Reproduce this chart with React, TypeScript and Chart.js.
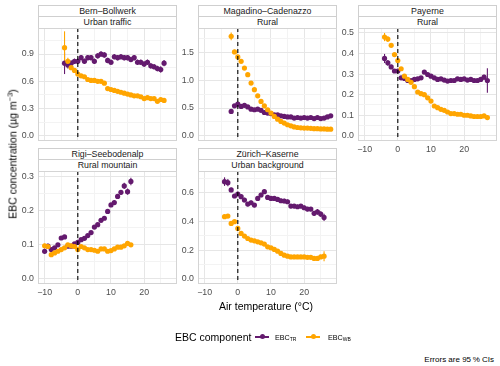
import React, { useEffect, useRef } from "react";
import { Chart, registerables } from "chart.js";
Chart.register(...registerables);

const FONT = '"Liberation Sans", Arial, Helvetica, sans-serif';
const PURPLE = "#641A6E";
const ORANGE = "#FFA500";

// ---------- data ----------
const siteNames = ["Bern–Bollwerk", "Magadino–Cadenazzo", "Payerne", "Rigi–Seebodenalp", "Zürich–Kaserne"];
const siteTypes = ["Urban traffic", "Rural", "Rural", "Rural mountain", "Urban background"];

const xMajorTicks = [-10, 0, 10, 20];
const xMinorTicks = [-5, 5, 15, 25];

const bernTemp = [-4, -3, -2, -1, 0, 1, 2, 3, 4, 5, 6, 7, 8, 9, 10, 11, 12, 13, 14, 15, 16, 17, 18, 19, 20, 21, 22, 23, 24, 25, 26];
const bernTR = [0.80, 0.78, 0.80, 0.82, 0.82, 0.86, 0.82, 0.86, 0.86, 0.82, 0.88, 0.90, 0.89, 0.83, 0.81, 0.87, 0.86, 0.87, 0.86, 0.86, 0.84, 0.86, 0.81, 0.81, 0.79, 0.81, 0.77, 0.76, 0.74, 0.73, 0.80];
const bernTRci = [0.12, 0.04, 0.03, 0.03, 0.03, 0.03, 0.03, 0.03, 0.03, 0.03, 0.03, 0.03, 0.03, 0.03, 0.03, 0.03, 0.03, 0.03, 0.03, 0.03, 0.03, 0.03, 0.03, 0.03, 0.03, 0.03, 0.03, 0.03, 0.03, 0.035, 0.035];
const bernWB = [0.97, 0.82, 0.75, 0.72, 0.68, 0.66, 0.65, 0.62, 0.61, 0.61, 0.60, 0.60, 0.58, 0.52, 0.51, 0.50, 0.49, 0.48, 0.47, 0.46, 0.45, 0.44, 0.44, 0.43, 0.41, 0.42, 0.41, 0.41, 0.38, 0.40, 0.39];
const bernWBci = [0.18, 0.04, 0.025, 0.02, 0.015, 0.012, 0.012, 0.012, 0.012, 0.012, 0.012, 0.012, 0.012, 0.012, 0.012, 0.012, 0.012, 0.012, 0.012, 0.012, 0.012, 0.012, 0.012, 0.012, 0.012, 0.012, 0.012, 0.012, 0.015, 0.015, 0.015];

const magTemp = [-2, -1, 0, 1, 2, 3, 4, 5, 6, 7, 8, 9, 10, 11, 12, 13, 14, 15, 16, 17, 18, 19, 20, 21, 22, 23, 24, 25, 26, 27, 28];
const magTR = [0.44, 0.54, 0.57, 0.53, 0.55, 0.52, 0.48, 0.47, 0.48, 0.46, 0.42, 0.41, 0.40, 0.38, 0.38, 0.36, 0.35, 0.34, 0.34, 0.32, 0.33, 0.32, 0.33, 0.32, 0.33, 0.31, 0.33, 0.31, 0.32, 0.34, 0.36];
const magTRci = [0.03, 0.02, 0.02, 0.02, 0.02, 0.02, 0.02, 0.02, 0.02, 0.02, 0.02, 0.02, 0.02, 0.02, 0.02, 0.02, 0.02, 0.02, 0.02, 0.02, 0.02, 0.02, 0.02, 0.02, 0.02, 0.02, 0.02, 0.02, 0.02, 0.02, 0.03];
const magWB = [1.79, 1.51, 1.42, 1.34, 1.22, 1.10, 0.95, 0.83, 0.72, 0.62, 0.54, 0.47, 0.41, 0.35, 0.30, 0.26, 0.23, 0.20, 0.18, 0.16, 0.15, 0.145, 0.14, 0.14, 0.135, 0.13, 0.13, 0.125, 0.125, 0.12, 0.12];
const magWBci = [0.07, 0.04, 0.02, 0.02, 0.02, 0.02, 0.02, 0.02, 0.02, 0.02, 0.02, 0.02, 0.02, 0.02, 0.02, 0.02, 0.02, 0.02, 0.02, 0.02, 0.02, 0.02, 0.02, 0.02, 0.02, 0.02, 0.02, 0.02, 0.02, 0.02, 0.02];

const payTemp = [-4, -3, -2, -1, 0, 1, 2, 3, 4, 5, 6, 7, 8, 9, 10, 11, 12, 13, 14, 15, 16, 17, 18, 19, 20, 21, 22, 23, 24, 25, 26, 27];
const payTR = [0.376, 0.355, 0.335, 0.315, 0.315, 0.282, 0.279, 0.269, 0.269, 0.274, 0.277, 0.282, 0.31, 0.298, 0.29, 0.282, 0.274, 0.277, 0.271, 0.266, 0.269, 0.269, 0.277, 0.274, 0.277, 0.271, 0.274, 0.269, 0.269, 0.274, 0.285, 0.269];
const payTRci = [0.022, 0.014, 0.01, 0.008, 0.008, 0.007, 0.007, 0.007, 0.007, 0.007, 0.007, 0.007, 0.007, 0.007, 0.007, 0.007, 0.007, 0.007, 0.007, 0.007, 0.007, 0.007, 0.007, 0.007, 0.007, 0.007, 0.007, 0.007, 0.007, 0.008, 0.012, 0.06];
const payWB = [0.48, 0.47, 0.44, 0.395, 0.366, 0.326, 0.29, 0.274, 0.26, 0.239, 0.213, 0.205, 0.20, 0.185, 0.169, 0.145, 0.137, 0.129, 0.124, 0.116, 0.108, 0.108, 0.105, 0.105, 0.10, 0.10, 0.097, 0.094, 0.094, 0.094, 0.097, 0.089];
const payWBci = [0.02, 0.014, 0.008, 0.006, 0.006, 0.006, 0.006, 0.006, 0.006, 0.006, 0.006, 0.006, 0.006, 0.006, 0.006, 0.006, 0.006, 0.006, 0.006, 0.006, 0.006, 0.006, 0.006, 0.006, 0.006, 0.006, 0.006, 0.006, 0.006, 0.006, 0.008, 0.012];

const rigiTemp = [-10, -9, -8, -7, -6, -5, -4, -3, -2, -1, 0, 1, 2, 3, 4, 5, 6, 7, 8, 9, 10, 11, 12, 13, 14, 15, 16];
const rigiTR = [0.081, 0.096, 0.086, 0.091, 0.100, 0.12, 0.123, 0.096, 0.096, 0.103, 0.107, 0.115, 0.119, 0.127, 0.136, 0.152, 0.159, 0.172, 0.178, 0.198, 0.217, 0.224, 0.242, 0.254, 0.273, 0.256, 0.286];
const rigiTRci = [0.008, 0.007, 0.006, 0.005, 0.005, 0.005, 0.005, 0.004, 0.004, 0.004, 0.004, 0.004, 0.004, 0.004, 0.004, 0.005, 0.005, 0.005, 0.005, 0.005, 0.005, 0.006, 0.006, 0.007, 0.009, 0.009, 0.011];
const rigiWB = [0.097, 0.095, 0.071, 0.076, 0.081, 0.086, 0.091, 0.10, 0.097, 0.095, 0.086, 0.095, 0.091, 0.086, 0.086, 0.084, 0.081, 0.088, 0.088, 0.081, 0.083, 0.088, 0.093, 0.093, 0.097, 0.104, 0.10];
const rigiWBci = [0.006, 0.005, 0.004, 0.004, 0.004, 0.004, 0.004, 0.004, 0.004, 0.004, 0.004, 0.004, 0.004, 0.004, 0.004, 0.004, 0.004, 0.004, 0.004, 0.004, 0.004, 0.004, 0.004, 0.004, 0.004, 0.005, 0.005];

const zurTemp = [-4, -3, -2, -1, 0, 1, 2, 3, 4, 5, 6, 7, 8, 9, 10, 11, 12, 13, 14, 15, 16, 17, 18, 19, 20, 21, 22, 23, 24, 25, 26];
const zurTR = [0.677, 0.67, 0.619, 0.577, 0.591, 0.572, 0.549, 0.521, 0.53, 0.514, 0.56, 0.584, 0.607, 0.567, 0.56, 0.56, 0.553, 0.544, 0.542, 0.537, 0.507, 0.507, 0.502, 0.507, 0.495, 0.486, 0.486, 0.456, 0.467, 0.451, 0.428];
const zurTRci = [0.03, 0.025, 0.016, 0.015, 0.015, 0.015, 0.015, 0.015, 0.015, 0.015, 0.015, 0.015, 0.015, 0.015, 0.015, 0.015, 0.015, 0.015, 0.015, 0.015, 0.015, 0.015, 0.015, 0.015, 0.015, 0.015, 0.015, 0.018, 0.02, 0.02, 0.025];
const zurWB = [0.433, 0.437, 0.386, 0.398, 0.351, 0.316, 0.298, 0.281, 0.27, 0.265, 0.258, 0.251, 0.242, 0.223, 0.216, 0.205, 0.193, 0.177, 0.165, 0.158, 0.153, 0.153, 0.153, 0.153, 0.153, 0.15, 0.15, 0.142, 0.142, 0.153, 0.158];
const zurWBci = [0.012, 0.01, 0.008, 0.008, 0.008, 0.008, 0.008, 0.008, 0.008, 0.008, 0.008, 0.008, 0.008, 0.008, 0.008, 0.008, 0.008, 0.008, 0.008, 0.008, 0.008, 0.008, 0.008, 0.008, 0.008, 0.008, 0.008, 0.01, 0.01, 0.015, 0.035];

// y-axis breaks per panel
const bernYTicks = [0, 0.3, 0.6, 0.9];
const bernYMinor = [0.15, 0.45, 0.75, 1.05];
const magYTicks = [0, 0.5, 1.0, 1.5];
const magYMinor = [0.25, 0.75, 1.25, 1.75];
const payYTicks = [0, 0.1, 0.2, 0.3, 0.4, 0.5];
const payYMinor = [0.05, 0.15, 0.25, 0.35, 0.45];
const rigiYTicks = [0, 0.1, 0.2, 0.3];
const rigiYMinor = [0.05, 0.15, 0.25];
const zurYTicks = [0, 0.2, 0.4, 0.6];
const zurYMinor = [0.1, 0.3, 0.5, 0.7];

// ---------- layout ----------
const X_MIN = -12;
const X_MAX = 29.9;
const PW = 139; // plot width
const PH = 113; // plot height
const YW = 34; // y-axis label space
const PAD_T = 6;
const PAD_R = 4;

type PanelCfg = {
  name: string; kind: string; left: number; top: number; xLabels: boolean;
  yMin: number; yMax: number; yTicks: number[]; yMinor: number[];
  temp: number[]; tr: number[]; trCi: number[]; wb: number[]; wbCi: number[];
};

const panels: PanelCfg[] = [
  { name: siteNames[0], kind: siteTypes[0], left: 38, top: 28, xLabels: false, yMin: -0.0565, yMax: 1.1865, yTicks: bernYTicks, yMinor: bernYMinor, temp: bernTemp, tr: bernTR, trCi: bernTRci, wb: bernWB, wbCi: bernWBci },
  { name: siteNames[1], kind: siteTypes[1], left: 198, top: 28, xLabels: false, yMin: -0.0925, yMax: 1.94, yTicks: magYTicks, yMinor: magYMinor, temp: magTemp, tr: magTR, trCi: magTRci, wb: magWB, wbCi: magWBci },
  { name: siteNames[2], kind: siteTypes[2], left: 358, top: 28, xLabels: true, yMin: -0.025, yMax: 0.524, yTicks: payYTicks, yMinor: payYMinor, temp: payTemp, tr: payTR, trCi: payTRci, wb: payWB, wbCi: payWBci },
  { name: siteNames[3], kind: siteTypes[3], left: 38, top: 171, xLabels: true, yMin: -0.0151, yMax: 0.3167, yTicks: rigiYTicks, yMinor: rigiYMinor, temp: rigiTemp, tr: rigiTR, trCi: rigiTRci, wb: rigiWB, wbCi: rigiWBci },
  { name: siteNames[4], kind: siteTypes[4], left: 198, top: 171, xLabels: true, yMin: -0.0358, yMax: 0.751, yTicks: zurYTicks, yMinor: zurYMinor, temp: zurTemp, tr: zurTR, trCi: zurTRci, wb: zurWB, wbCi: zurWBci },
];

const isIn = (arr: number[], v: number) => arr.some((a) => Math.abs(a - v) < 1e-9);
const fmtX = (v: number) => (v < 0 ? "\u2212" + Math.abs(v) : String(v));

function Panel({ cfg }: { cfg: PanelCfg }) {
  const ref = useRef<HTMLCanvasElement>(null);
  const xh = cfg.xLabels ? 16 : 0;
  const padB = cfg.xLabels ? 0 : 6;
  const cw = YW + PW + PAD_R;
  const chh = PAD_T + PH + xh + padB;

  useEffect(() => {
    const canvas = ref.current!;
    const series = [
      { data: cfg.tr, ci: cfg.trCi, color: PURPLE },
      { data: cfg.wb, ci: cfg.wbCi, color: ORANGE },
    ];
    const plugin = {
      id: "panelDeco",
      beforeDatasetsDraw(chart: any) {
        const { ctx, chartArea, scales } = chart;
        ctx.save();
        ctx.beginPath();
        ctx.rect(chartArea.left, chartArea.top, chartArea.right - chartArea.left, chartArea.bottom - chartArea.top);
        ctx.clip();
        ctx.lineWidth = 1.1;
        for (const s of series) {
          ctx.strokeStyle = s.color;
          s.data.forEach((v, i) => {
            const x = scales.x.getPixelForValue(cfg.temp[i]);
            const y1 = scales.y.getPixelForValue(v - s.ci[i]);
            const y2 = scales.y.getPixelForValue(v + s.ci[i]);
            ctx.beginPath();
            ctx.moveTo(x, y1);
            ctx.lineTo(x, y2);
            ctx.stroke();
          });
        }
        ctx.restore();
      },
      afterDatasetsDraw(chart: any) {
        const { ctx, chartArea, scales } = chart;
        const x0 = scales.x.getPixelForValue(0);
        ctx.save();
        ctx.strokeStyle = "#000000";
        ctx.lineWidth = 1.1;
        ctx.setLineDash([4, 3]);
        ctx.beginPath();
        ctx.moveTo(x0, chartArea.top);
        ctx.lineTo(x0, chartArea.bottom);
        ctx.stroke();
        ctx.setLineDash([]);
        ctx.strokeStyle = "#d4d4d4";
        ctx.lineWidth = 1;
        ctx.strokeRect(chartArea.left + 0.5, chartArea.top + 0.5, chartArea.right - chartArea.left - 1, chartArea.bottom - chartArea.top - 1);
        ctx.restore();
      },
    };

    const chart = new Chart(canvas, {
      type: "scatter",
      data: {
        datasets: [
          {
            label: "EBC_WB",
            data: cfg.temp.map((t, i) => ({ x: t, y: cfg.wb[i] })),
            backgroundColor: ORANGE,
            pointRadius: 2.6,
            pointBorderWidth: 0,
            borderWidth: 0,
          },
          {
            label: "EBC_TR",
            data: cfg.temp.map((t, i) => ({ x: t, y: cfg.tr[i] })),
            backgroundColor: PURPLE,
            pointRadius: 2.6,
            pointBorderWidth: 0,
            borderWidth: 0,
          },
        ],
      },
      options: {
        animation: false,
        responsive: false,
        devicePixelRatio: 1,
        events: [],
        layout: { padding: { top: PAD_T, right: PAD_R, bottom: padB, left: 0 } },
        plugins: { legend: { display: false }, tooltip: { enabled: false } },
        scales: {
          x: {
            type: "linear",
            min: X_MIN,
            max: X_MAX,
            afterBuildTicks: (scale: any) => {
              scale.ticks = [...xMajorTicks, ...xMinorTicks].sort((a, b) => a - b).map((v) => ({ value: v }));
            },
            afterFit: (scale: any) => {
              scale.height = xh;
              scale.paddingLeft = 0;
              scale.paddingRight = 0;
            },
            border: { display: false },
            grid: {
              drawTicks: false,
              color: (c: any) => (c.tick && isIn(xMajorTicks, c.tick.value) ? "#e6e6e6" : "#f3f3f3"),
              lineWidth: 1,
            },
            ticks: {
              display: cfg.xLabels,
              autoSkip: false,
              maxRotation: 0,
              padding: 3,
              color: "#4d4d4d",
              font: { family: FONT, size: 8.8 },
              callback: (v: any) => (isIn(xMajorTicks, Number(v)) ? fmtX(Number(v)) : ""),
            },
          },
          y: {
            type: "linear",
            min: cfg.yMin,
            max: cfg.yMax,
            afterBuildTicks: (scale: any) => {
              scale.ticks = [...cfg.yTicks, ...cfg.yMinor].sort((a, b) => a - b).map((v) => ({ value: v }));
            },
            afterFit: (scale: any) => {
              scale.width = YW;
              scale.paddingTop = 0;
              scale.paddingBottom = 0;
            },
            border: { display: false },
            grid: {
              drawTicks: false,
              color: (c: any) => (c.tick && isIn(cfg.yTicks, c.tick.value) ? "#e6e6e6" : "#f3f3f3"),
              lineWidth: 1,
            },
            ticks: {
              autoSkip: false,
              padding: 4,
              color: "#4d4d4d",
              font: { family: FONT, size: 8.8 },
              callback: (v: any) => (isIn(cfg.yTicks, Number(v)) ? Number(v).toFixed(1) : ""),
            },
          },
        },
      },
      plugins: [plugin],
    } as any);
    return () => chart.destroy();
  }, []);

  return (
    <canvas
      ref={ref}
      width={cw}
      height={chh}
      style={{ position: "absolute", left: cfg.left - YW, top: cfg.top - PAD_T, width: cw, height: chh }}
    />
  );
}

function Strip({ cfg }: { cfg: PanelCfg }) {
  const st = cfg.top - 23;
  const rowStyle: React.CSSProperties = {
    position: "absolute",
    left: cfg.left,
    width: PW,
    boxSizing: "border-box",
    border: "1px solid #cfcfcf",
    background: "#ffffff",
    fontSize: 8.8,
    color: "#1a1a1a",
    textAlign: "center",
    whiteSpace: "nowrap",
  };
  return (
    <>
      <div style={{ ...rowStyle, top: st, height: 12, lineHeight: "10px" }}>{cfg.name}</div>
      <div style={{ ...rowStyle, top: st + 11, height: 13, lineHeight: "11px" }}>{cfg.kind}</div>
    </>
  );
}

function LegendKey({ x, color }: { x: number; color: string }) {
  return (
    <>
      <div style={{ position: "absolute", left: x, top: 336, width: 14, height: 1.5, background: color }} />
      <div style={{ position: "absolute", left: x + 4.5, top: 334.2, width: 5, height: 5, borderRadius: "50%", background: color }} />
    </>
  );
}

export default function App() {
  return (
    <div style={{ position: "absolute", left: 0, top: 0, width: 500, height: 366, background: "#fff", fontFamily: FONT, overflow: "hidden" }}>
      {panels.map((p, i) => (
        <Strip key={"s" + i} cfg={p} />
      ))}
      {panels.map((p, i) => (
        <Panel key={"p" + i} cfg={p} />
      ))}
      <div style={{ position: "absolute", left: 12, top: 154, transform: "translate(-50%, -50%) rotate(-90deg)", whiteSpace: "nowrap", fontSize: 10.5, color: "#000" }}>
        EBC concentration (µg m<sup style={{ fontSize: 7.5, verticalAlign: "4px" }}>−3</sup>)
      </div>
      <div style={{ position: "absolute", left: 266, top: 305.5, transform: "translate(-50%, -50%)", whiteSpace: "nowrap", fontSize: 10.5, color: "#000" }}>
        Air temperature (°C)
      </div>
      <div style={{ position: "absolute", left: 175, top: 337, transform: "translateY(-50%)", whiteSpace: "nowrap", fontSize: 10.5, color: "#000" }}>
        EBC component
      </div>
      <LegendKey x={255} color={PURPLE} />
      <div style={{ position: "absolute", left: 275, top: 337, transform: "translateY(-50%)", whiteSpace: "nowrap", fontSize: 7.2, color: "#000" }}>
        EBC<sub style={{ fontSize: 5, verticalAlign: "-1px" }}>TR</sub>
      </div>
      <LegendKey x={306} color={ORANGE} />
      <div style={{ position: "absolute", left: 328, top: 337, transform: "translateY(-50%)", whiteSpace: "nowrap", fontSize: 7.2, color: "#000" }}>
        EBC<sub style={{ fontSize: 5, verticalAlign: "-1px" }}>WB</sub>
      </div>
      <div style={{ position: "absolute", right: 6, top: 359, transform: "translateY(-50%)", whiteSpace: "nowrap", fontSize: 8, color: "#000" }}>
        Errors are 95{"\u2009"}% CIs
      </div>
    </div>
  );
}
